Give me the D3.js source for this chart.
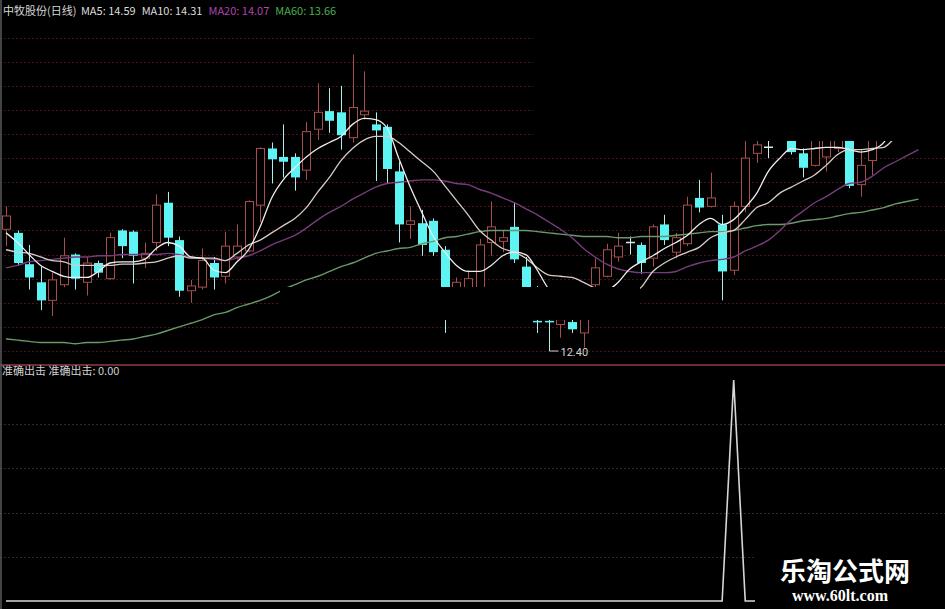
<!DOCTYPE html>
<html><head><meta charset="utf-8">
<script src="https://cdn.jsdelivr.net/npm/d3@7"></script>
<style>html,body{margin:0;padding:0;background:#000;overflow:hidden}</style>
</head><body><svg id="c" width="945" height="609"></svg>
<script>
// ---- data (daily candles) ----
const open  = [13.41,13.38,13.12,12.97,12.82,12.95,13.20,12.97,13.13,13.00, 13.40,13.39,13.17,13.30,13.63,13.32,12.90,12.93,13.13,13.02, 13.18,13.23,13.61,14.08,14.01,14.01,13.90,14.24,14.39,14.38, 14.17,14.36,14.28,14.26,13.89,13.45,13.46,13.48,13.24,12.86, 12.89,12.86,13.30,13.31,13.43,13.10,12.65,12.65,12.62,12.64, 12.55,12.95,13.02,13.18,13.30,13.28,13.17,13.45,13.22,13.29, 13.67,13.60,13.45,13.07,13.60,14.04,14.09,14.23,14.19,14.04, 13.94,14.01,14.08,14.19,13.78,13.98,14.15,14.25,14.38,14.30];
const high  = [13.60,13.40,13.28,13.10,13.05,13.34,13.21,13.18,13.15,13.38, 13.41,13.40,13.30,13.70,13.72,13.35,12.99,13.25,13.18,13.39, 13.45,13.65,14.09,14.13,14.28,14.04,14.30,14.62,14.58,14.60, 14.86,14.72,14.38,14.28,13.97,13.60,13.57,13.50,13.27,13.01, 13.07,13.33,13.64,13.40,13.63,13.18,12.94,12.82,12.82,12.67, 12.82,13.17,13.29,13.38,13.35,13.30,13.45,13.53,13.38,13.68, 13.82,13.88,13.53,13.64,14.23,14.23,14.19,14.40,14.32,14.08, 14.25,14.25,14.22,14.28,14.07,14.25,14.33,14.48,14.44,14.52];
const low   = [13.27,13.11,12.91,12.74,12.69,12.93,12.91,12.86,13.01,12.99, 13.17,12.96,13.09,13.23,13.27,12.85,12.80,12.91,12.91,12.96, 13.16,13.22,13.47,13.79,13.84,13.73,13.82,14.15,14.21,14.07, 14.13,14.32,13.81,13.79,13.30,13.33,13.19,13.19,12.55,12.82, 12.84,12.78,13.19,13.22,13.13,12.78,12.55,12.40,12.51,12.55, 12.43,12.91,13.01,13.14,13.20,13.04,13.10,13.28,13.17,13.27, 13.55,13.59,12.82,13.03,13.55,13.96,14.00,14.17,14.03,13.84, 13.93,13.89,14.05,13.75,13.68,13.86,14.14,14.19,14.23,14.25];
const close = [13.52,13.13,13.01,12.82,12.99,13.19,13.00,13.13,13.05,13.34, 13.27,13.19,13.21,13.61,13.34,12.90,12.94,13.15,13.01,13.27, 13.27,13.64,14.08,13.99,13.97,13.84,14.22,14.38,14.31,14.19, 14.42,14.39,14.23,13.91,13.45,13.48,13.28,13.22,12.82,12.97, 13.00,13.28,13.43,13.34,13.16,12.86,12.64,12.64,12.66,12.58, 12.78,13.09,13.24,13.27,13.30,13.13,13.43,13.32,13.34,13.61, 13.59,13.67,13.06,13.60,14.00,14.11,14.09,14.33,14.05,13.92, 14.17,14.18,14.15,13.77,13.94,14.18,14.28,14.40,14.28,14.44];

const ma5  = [13.38,13.30,13.20,13.11,13.06,13.02,13.01,13.01,13.06,13.13, 13.14,13.14,13.16,13.25,13.30,13.27,13.18,13.17,13.07,13.05, 13.14,13.24,13.43,13.67,13.82,13.92,14.01,14.08,14.13,14.18, 14.28,14.33,14.32,14.25,14.00,13.76,13.55,13.35,13.22,13.11, 13.06,13.06,13.11,13.19,13.22,13.20,13.07,12.91,12.82,12.78, 12.78,12.82,12.89,12.97,13.08,13.14,13.19,13.25,13.30,13.36, 13.45,13.50,13.45,13.49,13.59,13.71,13.89,14.00,14.08,14.07, 14.08,14.09,14.09,14.07,14.05,14.07,14.13,14.32,14.48,14.59];
const ma10 = [13.24,13.22,13.21,13.18,13.15,13.14,13.11,13.11,13.11,13.11, 13.12,13.12,13.13,13.14,13.17,13.19,13.17,13.17,13.17,13.15, 13.21,13.28,13.32,13.38,13.44,13.50,13.59,13.72,13.84,13.98, 14.08,14.15,14.18,14.18,14.13,14.05,13.97,13.89,13.77,13.65, 13.53,13.40,13.32,13.25,13.22,13.17,13.09,13.03,13.02,13.01, 12.97,12.92,12.86,12.82,12.86,12.93,13.06,13.13,13.18,13.22, 13.26,13.34,13.38,13.40,13.49,13.59,13.63,13.71,13.76,13.81, 13.86,13.94,14.03,14.07,14.07,14.08,14.09,14.17,14.23,14.31];
const ma20 = [13.09,13.11,13.14,13.15,13.16,13.17,13.18,13.18,13.19,13.19, 13.20,13.20,13.20,13.20,13.21,13.20,13.18,13.17,13.16,13.15, 13.17,13.19,13.23,13.28,13.32,13.36,13.42,13.49,13.55,13.60, 13.66,13.71,13.76,13.79,13.80,13.81,13.82,13.82,13.81,13.79, 13.78,13.74,13.71,13.67,13.63,13.58,13.53,13.47,13.41,13.34, 13.25,13.18,13.12,13.08,13.06,13.05,13.05,13.05,13.06,13.10, 13.13,13.15,13.16,13.18,13.23,13.27,13.32,13.40,13.49,13.56, 13.63,13.68,13.74,13.79,13.80,13.85,13.92,13.97,14.02,14.07];
const ma60 = [12.50,12.49,12.48,12.47,12.47,12.47,12.46,12.47,12.47,12.48, 12.49,12.50,12.52,12.54,12.57,12.60,12.63,12.66,12.70,12.72, 12.76,12.79,12.82,12.86,12.91,12.95,12.99,13.02,13.06,13.10, 13.13,13.17,13.21,13.23,13.25,13.26,13.29,13.31,13.34,13.35, 13.37,13.39,13.40,13.40,13.40,13.40,13.39,13.38,13.37,13.36, 13.35,13.35,13.35,13.34,13.34,13.35,13.35,13.35,13.36,13.37, 13.38,13.39,13.39,13.40,13.42,13.44,13.45,13.45,13.46,13.48, 13.49,13.50,13.52,13.54,13.55,13.57,13.59,13.62,13.64,13.66];

// lower indicator "准确出击"
const signal = [0,0,0,0,0,0,0,0,0,0, 0,0,0,0,0,0,0,0,0,0, 0,0,0,0,0,0,0,0,0,0, 0,0,0,0,0,0,0,0,0,0, 0,0,0,0,0,0,0,0,0,0, 0,0,0,0,0,0,0,0,0,0, 0,0,0,1,0,0,0,0,0,0, 0,0,0,0,0,0,0,0,0,0];

const stockName = "中牧股份(日线)";
const maNames  = ["MA5","MA10","MA20","MA60"];
const maLast   = [14.59, 14.31, 14.07, 13.66];
const priceTicks = [12.4,12.6,12.8,13.0,13.2,13.4,13.6,13.8,14.0,14.2,14.4,14.6,14.8,15.0];
const lowerTicks = [0.2,0.4,0.6,0.8];
const indName = "准确出击";

// ---- drawing ----
const W = 945, H = 609;
const svg = d3.select('#c');
svg.append('rect').attr('width', W).attr('height', H).attr('fill', '#000');

const n = open.length;
const x = d3.scaleLinear().domain([0, n - 1]).range([6, 918.5]);
const y = d3.scaleLinear().domain([12.4, 14.8]).range([351, 61.7]);
const yl = d3.scaleLinear().domain([0, 1]).range([601, 380]);

const defs = svg.append('defs');
defs.append('clipPath').attr('id', 'mainClip').append('path')
  .attr('clip-rule', 'evenodd')
  .attr('d', 'M0,0H945V364H0Z M533,0H945V141H533Z M280,287H640V320H280Z');

const main = svg.append('g').attr('clip-path', 'url(#mainClip)');

// grid (main)
const gGrid = main.append('g')
  .call(d3.axisLeft(y).tickValues(priceTicks).tickSize(-W).tickFormat(''));
gGrid.select('.domain').remove();
gGrid.selectAll('line').attr('stroke', '#42161a').attr('stroke-dasharray', '2,2')
  .attr('shape-rendering', 'crispEdges');

// candles
const RED = '#a84e4c', CYAN = '#5ef4f4', DOJI = '#d8e8e8';
const cg = main.append('g');
for (let i = 0; i < n; i++) {
  const cx = Math.round(x(i)) + 0.5;
  const o = open[i], c = close[i];
  const top = y(Math.max(o, c)), bot = y(Math.min(o, c));
  if (c > o) {
    cg.append('line').attr('x1', cx).attr('x2', cx).attr('y1', y(high[i])).attr('y2', top)
      .attr('stroke', RED).attr('stroke-width', 1);
    cg.append('line').attr('x1', cx).attr('x2', cx).attr('y1', bot).attr('y2', y(low[i]))
      .attr('stroke', RED).attr('stroke-width', 1);
    cg.append('rect').attr('x', cx - 4).attr('y', top).attr('width', 8).attr('height', Math.max(1, bot - top))
      .attr('fill', '#000').attr('stroke', RED).attr('stroke-width', 1);
  } else if (c < o) {
    cg.append('line').attr('x1', cx).attr('x2', cx).attr('y1', y(high[i])).attr('y2', y(low[i]))
      .attr('stroke', '#a8eeee').attr('stroke-width', 1);
    cg.append('rect').attr('x', cx - 4.5).attr('y', top).attr('width', 9).attr('height', Math.max(1.5, bot - top))
      .attr('fill', CYAN);
  } else {
    cg.append('line').attr('x1', cx).attr('x2', cx).attr('y1', y(high[i])).attr('y2', y(low[i]))
      .attr('stroke', DOJI).attr('stroke-width', 1);
    cg.append('line').attr('x1', cx - 4.5).attr('x2', cx + 4.5).attr('y1', top).attr('y2', top)
      .attr('stroke', DOJI).attr('stroke-width', 1.5);
  }
}

// moving averages
const line = d3.line().x((d, i) => x(i)).y(d => y(d)).curve(d3.curveMonotoneX);
const maSeries = [
  {v: ma60, c: '#6a9868', w: 1.4},
  {v: ma20, c: '#773c7a', w: 1.4},
  {v: ma10, c: '#d8cbc4', w: 1.3},
  {v: ma5,  c: '#eeeeee', w: 1.3}
];
maSeries.forEach(s => {
  main.append('path').attr('d', line(s.v)).attr('fill', 'none')
    .attr('stroke', s.c).attr('stroke-width', s.w);
});

// lowest price marker
const iMin = d3.minIndex(low);
const lx = Math.round(x(iMin)) + 0.5, ly = y(low[iMin]);
svg.append('line').attr('x1', lx).attr('x2', lx + 9).attr('y1', ly).attr('y2', ly)
  .attr('stroke', '#cfcfcf').attr('stroke-width', 1);
svg.append('text').attr('x', lx + 11).attr('y', ly + 5)
  .attr('font-family', 'Roboto, "DejaVu Sans", sans-serif').attr('font-size', 11)
  .attr('fill', '#d4d4d4').text(d3.format('.2f')(low[iMin]));

// header
const head = svg.append('text').attr('x', 3).attr('y', 15)
  .attr('font-family', '"Noto Sans CJK SC", sans-serif').attr('font-size', 11);
head.append('tspan').attr('fill', '#d6d6d6').text(stockName + ' ');
const maColors = ['#dcdcdc', '#dcdcdc', '#b044b0', '#4caf50'];
maNames.forEach((m, k) => {
  head.append('tspan').attr('fill', maColors[k]).attr('dx', k ? 6 : 2)
    .text(m + ': ' + d3.format('.2f')(maLast[k]));
});

// separator
svg.append('line').attr('x1', 0).attr('x2', W).attr('y1', 365).attr('y2', 365)
  .attr('stroke', '#6e2c3a').attr('stroke-width', 2);

// lower panel grid
const gl = svg.append('g')
  .call(d3.axisLeft(yl).tickValues(lowerTicks).tickSize(-W).tickFormat(''));
gl.select('.domain').remove();
gl.selectAll('line').attr('stroke', '#302a2a').attr('stroke-dasharray', '2,2')
  .attr('shape-rendering', 'crispEdges');

// indicator line
const lineL = d3.line().x((d, i) => x(i)).y(d => yl(d));
svg.append('path').attr('d', lineL(signal)).attr('fill', 'none')
  .attr('stroke', '#d6d6d6').attr('stroke-width', 1.6);

// lower label
svg.append('text').attr('x', 2).attr('y', 375)
  .attr('font-family', '"Noto Sans CJK SC", sans-serif').attr('font-size', 11)
  .attr('fill', '#d0d0d0')
  .text(indName + '  ' + indName + ': ' + d3.format('.2f')(signal[n - 1]));

// left border
svg.append('line').attr('x1', 1).attr('x2', 1).attr('y1', 0).attr('y2', H)
  .attr('stroke', '#5a5a5a').attr('stroke-width', 1.5);

// watermark
svg.append('rect').attr('x', 755).attr('y', 533).attr('width', 190).attr('height', 76).attr('fill', '#000');
svg.append('text').attr('x', 845).attr('y', 581).attr('text-anchor', 'middle')
  .attr('font-family', '"Noto Sans CJK SC", sans-serif').attr('font-weight', 'bold')
  .attr('font-size', 26).attr('fill', '#ffffff').text('乐淘公式网');
svg.append('text').attr('x', 840).attr('y', 601).attr('text-anchor', 'middle')
  .attr('font-family', '"Liberation Serif", serif').attr('font-weight', 'bold')
  .attr('font-size', 16).attr('fill', '#ffffff').text('www.60lt.com');
</script>
</body></html>
